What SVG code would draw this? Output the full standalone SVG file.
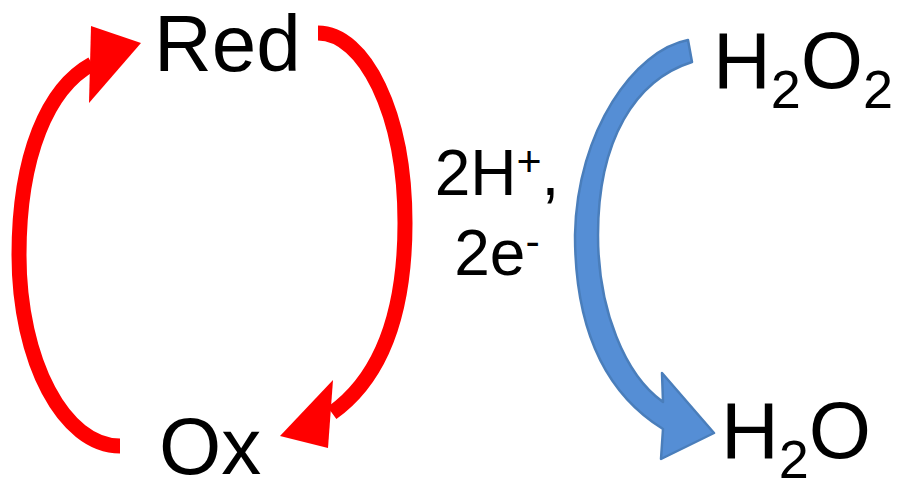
<svg xmlns="http://www.w3.org/2000/svg" width="897" height="479" viewBox="0 0 897 479">
  <style>
    .lbl { font-family: "Liberation Sans", Arial, sans-serif; font-size: 80px; fill: #000; }
    .mid { font-family: "Liberation Sans", Arial, sans-serif; font-size: 64px; fill: #000; }
    .red { fill: none; stroke: #FF0000; stroke-width: 15; }
    .redhead { fill: #FF0000; stroke: none; }
    .blue { fill: #558ED5; stroke: #4A7EBB; stroke-width: 2.5; stroke-linejoin: round; }
  </style>
  <rect width="897" height="479" fill="#FFFFFF"/>
  <g id="connectors">
    <g id="red-left">
      <path class="red" d="M120,446 C64,446 19,361 19,255 C19,155 48,88 92,64"/>
      <polygon class="redhead" points="91,26 141,43 89,103"/>
    </g>
    <g id="red-right">
      <path class="red" d="M318,33 C364,33 405,112 405,223 C405,320 378,380 332,413"/>
      <polygon class="redhead" points="333,380 280,436 328,448"/>
    </g>
    <g id="blue-arrow">
      <path class="blue" d="M688,40 C635,50 577,130 575,235 C575,320 600,390 663,429 L661,459 L714,433 L662,373 L663,402 C625,375 598,310 598,235 C598,140 635,80 692,62 Z"/>
    </g>
  </g>
  <g id="node-red">
    <text class="lbl" x="154" y="71">Red</text>
  </g>
  <g id="node-ox">
    <text class="lbl" x="159" y="474">Ox</text>
  </g>
  <g id="node-h2o2">
    <text class="lbl" x="713" y="88">H<tspan font-size="54" dy="20">2</tspan><tspan dy="-20">O</tspan><tspan font-size="54" dy="20">2</tspan></text>
  </g>
  <g id="node-h2o">
    <text class="lbl" x="721" y="458">H<tspan font-size="54" dy="20">2</tspan><tspan dy="-20">O</tspan></text>
  </g>
  <g id="label-electrons">
    <text class="mid" x="497" y="195" text-anchor="middle">2H<tspan font-size="43" dy="-19">+</tspan><tspan dy="19">,</tspan></text>
    <text class="mid" x="497" y="275" text-anchor="middle">2e<tspan font-size="43" dy="-19">-</tspan></text>
  </g>
</svg>
